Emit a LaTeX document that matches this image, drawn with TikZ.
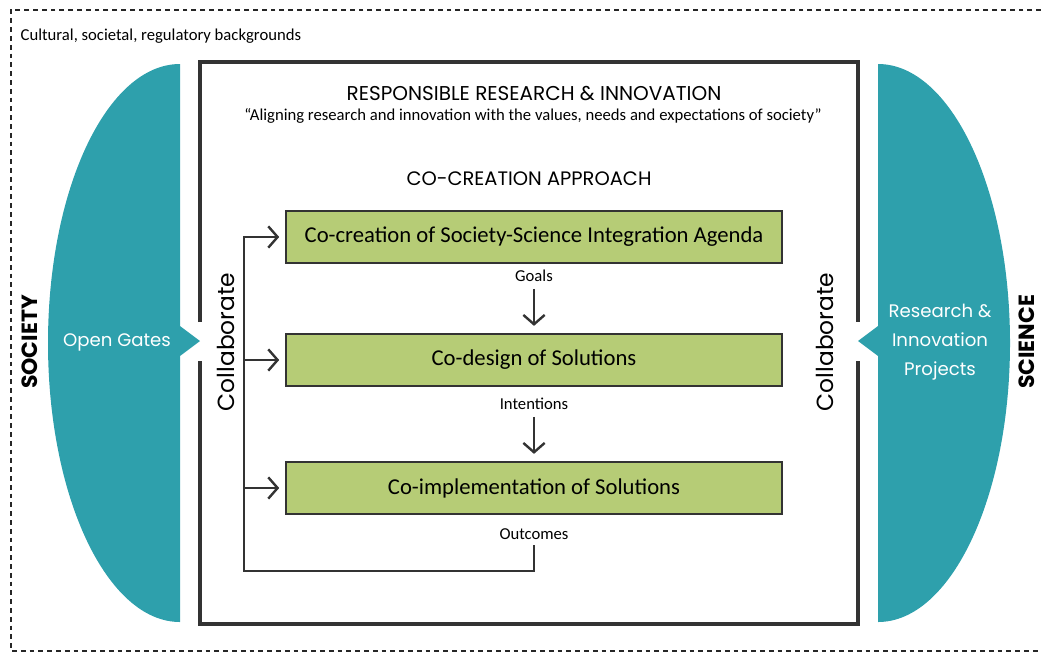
\documentclass[tikz,border=0pt]{standalone}
\usepackage{fontspec}
\setmainfont{Carlito}
\newfontfamily\headfont{Poppins}
\usetikzlibrary{arrows.meta}

\definecolor{gatecol}{HTML}{2EA0AC}
\definecolor{stepcol}{HTML}{B6CC76}
\definecolor{linecol}{HTML}{333333}

\tikzset{
  stepbox/.style={draw=linecol, line width=2.2pt, fill=stepcol, minimum width=372pt,
    minimum height=39pt, inner sep=0pt, font=\fontsize{17}{20}\selectfont},
  flowarrow/.style={draw=linecol, line width=1.8pt, -{Straight Barb[length=7pt,width=16pt]}},
  flowlabel/.style={inner sep=1pt, font=\fontsize{12.5}{14}\selectfont},
  headtext/.style={font=\headfont\fontsize{15}{18}\selectfont},
  sidetext/.style={font=\headfont\fontsize{17.5}{20}\selectfont, rotate=90},
  gatetext/.style={text=white, align=center, font=\headfont\fontsize{13.6}{21.5}\selectfont}
}

\begin{document}
\begin{tikzpicture}[x=0.75pt, y=-0.75pt]
    \useasboundingbox (0,0) rectangle (1041,654);

    % backgrounds frame (open at the right)
    \draw[black!85, line width=1.5pt, dash pattern=on 3.6pt off 3pt] (1041,10) -- (11,10) -- (11,651) -- (1041,651);
    \node[anchor=west, font=\fontsize{12.5}{14}\selectfont] (backgrounds) at (16,36) {Cultural, societal, regulatory backgrounds};

    % society and science gates
    \fill[gatecol] (180,64) arc[start angle=270, end angle=90, x radius=132, y radius=279]
        -- (180,356) -- (200,341) -- (180,326) -- cycle;
    \fill[gatecol] (878,64) arc[start angle=270, end angle=450, x radius=132, y radius=279]
        -- (878,356) -- (858,341) -- (878,326) -- cycle;

    % RRI frame
    \draw[linecol, line width=2.3pt] (200,322) -- (200,62) -- (858,62) -- (858,322);
    \draw[linecol, line width=2.3pt] (858,361) -- (858,624) -- (200,624) -- (200,361);

    \node[sidetext, font=\headfont\bfseries\fontsize{16.5}{20}\selectfont] (society) at (30,342) {SOCIETY};
    \node[sidetext, font=\headfont\bfseries\fontsize{16.5}{20}\selectfont] (science) at (1027,342) {SCIENCE};
    \node[gatetext] (gates) at (117,342) {Open Gates};
    \node[gatetext] (projects) at (940,342) {Research \&\\Innovation\\Projects};
    \node[sidetext] (collabL) at (226,342) {Collaborate};
    \node[sidetext] (collabR) at (825,342) {Collaborate};

    \node[headtext] (rri) at (534,94) {RESPONSIBLE RESEARCH \& INNOVATION};
    \node[font=\fontsize{12.5}{14}\selectfont] (quote) at (533,116) {``Aligning research and innovation with the values, needs and expectations of society''};
    \node[headtext, font=\headfont\fontsize{14.6}{17}\selectfont] (approach) at (529,179) {CO-CREATION APPROACH};

    % co-creation steps
    \node[stepbox] (agenda) at (534,237) {Co-creation of Society-Science Integration Agenda};
    \node[stepbox] (design) at (534,360) {Co-design of Solutions};
    \node[stepbox] (implement) at (534,488) {Co-implementation of Solutions};

    \node[flowlabel] (goals) at (534,276) {Goals};
    \node[flowlabel] (intentions) at (534,404) {Intentions};
    \node[flowlabel] (outcomes) at (534,534) {Outcomes};

    \draw[flowarrow, shorten <=4pt, shorten >=5pt] (goals) -- (design);
    \draw[flowarrow, shorten <=4pt, shorten >=5pt] (intentions) -- (implement);

    % feedback loop
    \coordinate (loop) at (244,571);
    \draw[flowarrow, shorten <=3pt, shorten >=4pt] (outcomes.south) |- (loop) |- (agenda.west);
    \draw[flowarrow, shorten >=4pt] (loop |- design.west) -- (design.west);
    \draw[flowarrow, shorten >=4pt] (loop |- implement.west) -- (implement.west);
\end{tikzpicture}
\end{document}
